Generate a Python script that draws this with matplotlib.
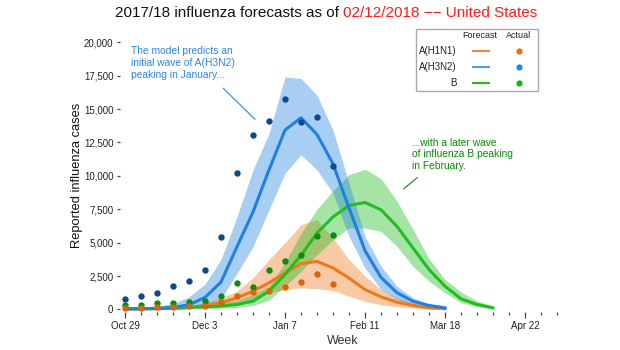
import matplotlib
matplotlib.use('Agg')
import matplotlib.pyplot as plt
from matplotlib.lines import Line2D
from matplotlib.patches import Rectangle

plt.rcParams['font.family'] = ['Liberation Sans', 'DejaVu Sans']

# x axis: week index from Oct 29 2017
tick_weeks = [0, 5, 10, 15, 20, 25]
tick_labels = ['Oct 29', 'Dec 3', 'Jan 7', 'Feb 11', 'Mar 18', 'Apr 22']
y_ticks = [0, 2500, 5000, 7500, 10000, 12500, 15000, 17500, 20000]

# reported cases (weeks 0-13)
h1n1_actual = [75, 75, 150, 170, 250, 250, 545, 990, 1290, 1370, 1690, 2040, 2640, 1890]
h3n2_actual = [750, 990, 1250, 1740, 2110, 2990, 5430, 10250, 13060, 14100, 15750, 14000, 14380, 10750]
b_actual = [300, 320, 450, 450, 545, 670, 1045, 1990, 1690, 2990, 3630, 4080, 5500, 5550]

# forecasts (median, lower, upper)
h1n1_fc = [30, 40, 50, 80, 150, 300, 500, 870, 1370, 1990, 2740, 3430, 3600, 3110, 2350, 1490, 950, 545, 300, 120, 50]
h1n1_lo = [0, 10, 20, 40, 80, 200, 300, 500, 750, 1250, 1490, 1620, 1550, 1400, 1000, 600, 350, 200, 100, 50, 20]
h1n1_hi = [80, 100, 150, 200, 300, 500, 870, 1370, 2370, 3730, 5000, 6340, 6720, 5350, 3730, 2490, 1490, 870, 500, 250, 100]

h3n2_fc = [50, 60, 80, 150, 350, 900, 2050, 4700, 7300, 10450, 13430, 14350, 13100, 10900, 7600, 4400, 2400, 1250, 620, 300, 120]
h3n2_lo = [0, 0, 20, 50, 120, 300, 800, 2700, 4700, 7460, 10200, 11570, 10450, 8700, 5470, 3110, 1490, 750, 370, 200, 60]
h3n2_hi = [100, 150, 250, 450, 950, 1900, 3730, 6960, 10450, 13180, 17410, 17290, 16040, 13430, 9450, 5470, 3230, 1740, 870, 370, 200]

b_fc = [50, 60, 80, 100, 150, 200, 250, 370, 620, 1370, 2610, 4050, 5720, 6930, 7780, 8010, 7460, 6220, 4600, 2990, 1740, 800, 370, 120]
b_lo = [0, 0, 10, 20, 40, 60, 100, 150, 300, 700, 1740, 2860, 4100, 5220, 6100, 6100, 5840, 4720, 3230, 2110, 1250, 500, 200, 50]
b_hi = [100, 120, 150, 200, 250, 350, 500, 700, 1100, 1740, 3480, 5700, 7500, 8900, 10100, 10500, 9800, 8100, 6000, 3800, 2250, 1300, 650, 250]

# colours
c_h1n1, c_h1n1_dot = '#ec7a1c', '#d8640c'
c_h3n2, c_h3n2_dot = '#1f80e0', '#0d4a8c'
c_b, c_b_dot = '#22bd22', '#0a8c14'

W, H = 620, 350
fig = plt.figure(figsize=(W / 100, H / 100), dpi=100)
ax = fig.add_axes([120 / W, 38 / H, 445 / W, 273.7 / H])

def fx(px):
    return px / W

def fy(py):
    return 1 - py / H

# uncertainty bands
ax.fill_between(range(len(h1n1_fc)), h1n1_lo, h1n1_hi, color=c_h1n1, alpha=0.4, lw=0)
ax.fill_between(range(len(b_fc)), b_lo, b_hi, color=c_b, alpha=0.4, lw=0)
ax.fill_between(range(len(h3n2_fc)), h3n2_lo, h3n2_hi, color=c_h3n2, alpha=0.38, lw=0)

# forecast lines
ax.plot(range(len(h1n1_fc)), h1n1_fc, color=c_h1n1, lw=2.2)
ax.plot(range(len(b_fc)), b_fc, color=c_b, lw=2.2)
ax.plot(range(len(h3n2_fc)), h3n2_fc, color=c_h3n2, lw=2.2)

# actual points
ax.plot(range(len(h3n2_actual)), h3n2_actual, 'o', color=c_h3n2_dot, ms=4.6, mew=0)
ax.plot(range(len(b_actual)), b_actual, 'o', color=c_b_dot, ms=4.6, mew=0)
ax.plot(range(len(h1n1_actual)), h1n1_actual, 'o', color=c_h1n1_dot, ms=4.6, mew=0)

ax.set_xlim(-0.3125, 27.5)
ax.set_ylim(-190, 20300)
for s in ax.spines.values():
    s.set_visible(False)

ax.set_xticks(tick_weeks)
ax.set_xticklabels(tick_labels)
ax.set_xticks(range(28), minor=True)
ax.set_yticks(y_ticks)
ax.set_yticklabels(['{:,}'.format(v) for v in y_ticks])
ax.tick_params(axis='x', which='major', length=4, width=0.9, color='#444444', labelsize=7, pad=2.5, labelcolor='#222222')
ax.tick_params(axis='x', which='minor', length=2.2, width=0.9, color='#444444')
ax.tick_params(axis='y', length=2.2, width=0.9, color='#444444', labelsize=7, pad=2.5, labelcolor='#222222')

ax.set_xlabel('Week', fontsize=9, labelpad=2.5, color='#333333')
ax.set_ylabel('Reported influenza cases', fontsize=9.3, labelpad=0.5, color='#111111')

# annotations
ax.text(0.36, 19700, 'The model predicts an\ninitial wave of A(H3N2)\npeaking in January...',
        color='#2b86e3', fontsize=7.4, va='top', ha='left', linespacing=1.2)
ax.plot([6.14, 8.125], [16557, 14237], color='#2b86e3', lw=0.8)
ax.text(17.92, 12850, '...with a later wave\nof influenza B peaking\nin February.',
        color='#0a8c0a', fontsize=7.4, va='top', ha='left', linespacing=1.2)
ax.plot([18.26, 17.42], [9865, 9042], color='#0a8c0a', lw=0.8)

# title in two colours
fig.text(fx(339), fy(13), '2017/18 influenza forecasts as of', ha='right', va='center', fontsize=11, color='#111111')
fig.text(fx(343), fy(13), '02/12/2018 \u2212\u2212 United States', ha='left', va='center', fontsize=11, color='#ff1a1a')

# legend table
fig.add_artist(Rectangle((fx(416), fy(91)), (538 - 416) / W, (91 - 29.3) / H,
                         transform=fig.transFigure, fill=False, edgecolor='#aaaaaa', lw=1))
fig.text(fx(480), fy(36), 'Forecast', ha='center', va='center', fontsize=6.5, color='#222222')
fig.text(fx(519), fy(36), 'Actual', ha='center', va='center', fontsize=6.5, color='#222222')
leg_names = ['A(H1N1)', 'A(H3N2)', 'B']
leg_lines = ['#f08a34', '#4a9bf0', '#22bd22']
leg_dots = ['#e8730f', '#1f87ee', '#14b814']
for name, lc, dc, py in zip(leg_names, leg_lines, leg_dots, [51, 67.3, 82.7]):
    fig.text(fx(456.7), fy(py), name, ha='right', va='center', fontsize=7, color='#222222')
    fig.add_artist(Line2D([fx(473), fx(489)], [fy(py), fy(py)], transform=fig.transFigure, color=lc, lw=1.5))
    fig.add_artist(Line2D([fx(519)], [fy(py)], transform=fig.transFigure, marker='o', color=dc, ms=4.5, mew=0))

fig.savefig('out.png', dpi=100)
